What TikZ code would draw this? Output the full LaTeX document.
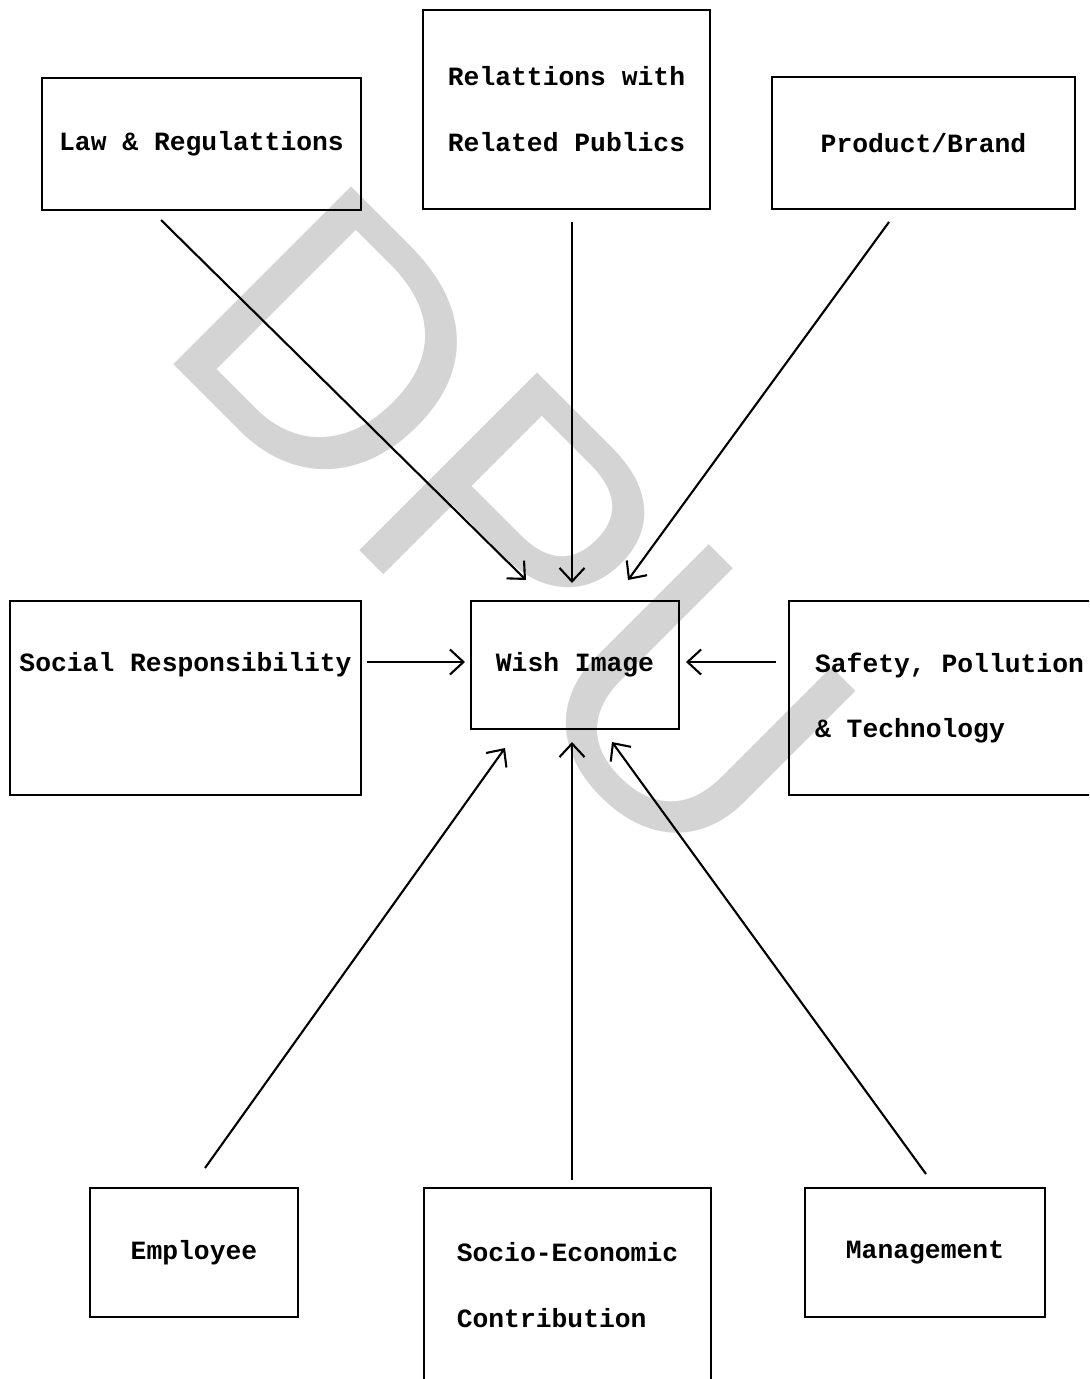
\documentclass[tikz,border=0pt]{standalone}
\usepackage{fontspec}
\setmonofont{Liberation Mono}
\setsansfont{Liberation Sans}
\usetikzlibrary{arrows.meta}
\tikzset{>={Straight Barb[length=2.7mm,width=5mm]}}
\tikzset{factor/.style={draw, line width=1.4pt, align=left, font=\ttfamily\bfseries\fontsize{15}{37.5}\selectfont}}
\tikzset{link/.style={draw, line width=1.2pt, ->}}

\begin{document}
\begin{tikzpicture}[x=0.02cm, y=-0.02cm]
\clip (0,0) rectangle (1089,1379);
\useasboundingbox (0,0) rectangle (1089,1379);
% watermark
\node (mark) [text=black!17, font=\sffamily\fontsize{208}{210}\selectfont, rotate=-45, anchor=base west, inner sep=0pt] at (152,343) {DPU};
% the factors round the wish image
\node (law) [factor, minimum width=6.38cm, minimum height=2.64cm] at (201.5,144) {Law \& Regulattions};
\node (rel) [factor, minimum width=5.74cm, minimum height=3.98cm] at (566.5,109.5) {Relattions with\\Related Publics};
\node (prod) [factor, minimum width=6.06cm, minimum height=2.64cm] at (923.5,143) {Product/Brand};
\node (soc) [factor, minimum width=7.02cm, minimum height=3.88cm] at (185.5,698) {Social Responsibility\\\vphantom{Ry}};
\node (wish) [factor, minimum width=4.16cm, minimum height=2.56cm] at (575,665) {Wish Image};
\node (safe) [factor, minimum width=6.42cm, minimum height=3.88cm] at (949.5,698) {Safety, Pollution\\\& Technology};
\node (emp) [factor, minimum width=4.16cm, minimum height=2.58cm] at (194,1252.5) {Employee};
\node (socio) [factor, minimum width=5.74cm, minimum height=3.88cm] at (567.5,1285) {Socio-Economic\\Contribution};
\node (man) [factor, minimum width=4.8cm, minimum height=2.58cm] at (925,1252.5) {Management};
% arrow ends
\coordinate (law-out) at (161,220);
\coordinate (rel-out) at (572,222);
\coordinate (prod-out) at (889,222);
\coordinate (soc-out) at (367,662);
\coordinate (safe-out) at (776,662);
\coordinate (emp-out) at (205,1168);
\coordinate (socio-out) at (572,1180);
\coordinate (man-out) at (926,1174);
\coordinate (wish-nw) at (526,580);
\coordinate (wish-n) at (572,583);
\coordinate (wish-ne) at (628,580);
\coordinate (wish-w) at (465,662);
\coordinate (wish-e) at (686,662);
\coordinate (wish-sw) at (505,748);
\coordinate (wish-s) at (572,742);
\coordinate (wish-se) at (612,742);
\path [link] (law-out) -- (wish-nw);
\path [link] (rel-out) -- (wish-n);
\path [link] (prod-out) -- (wish-ne);
\path [link] (soc-out) -- (wish-w);
\path [link] (safe-out) -- (wish-e);
\path [link] (emp-out) -- (wish-sw);
\path [link] (socio-out) -- (wish-s);
\path [link] (man-out) -- (wish-se);
\end{tikzpicture}
\end{document}
